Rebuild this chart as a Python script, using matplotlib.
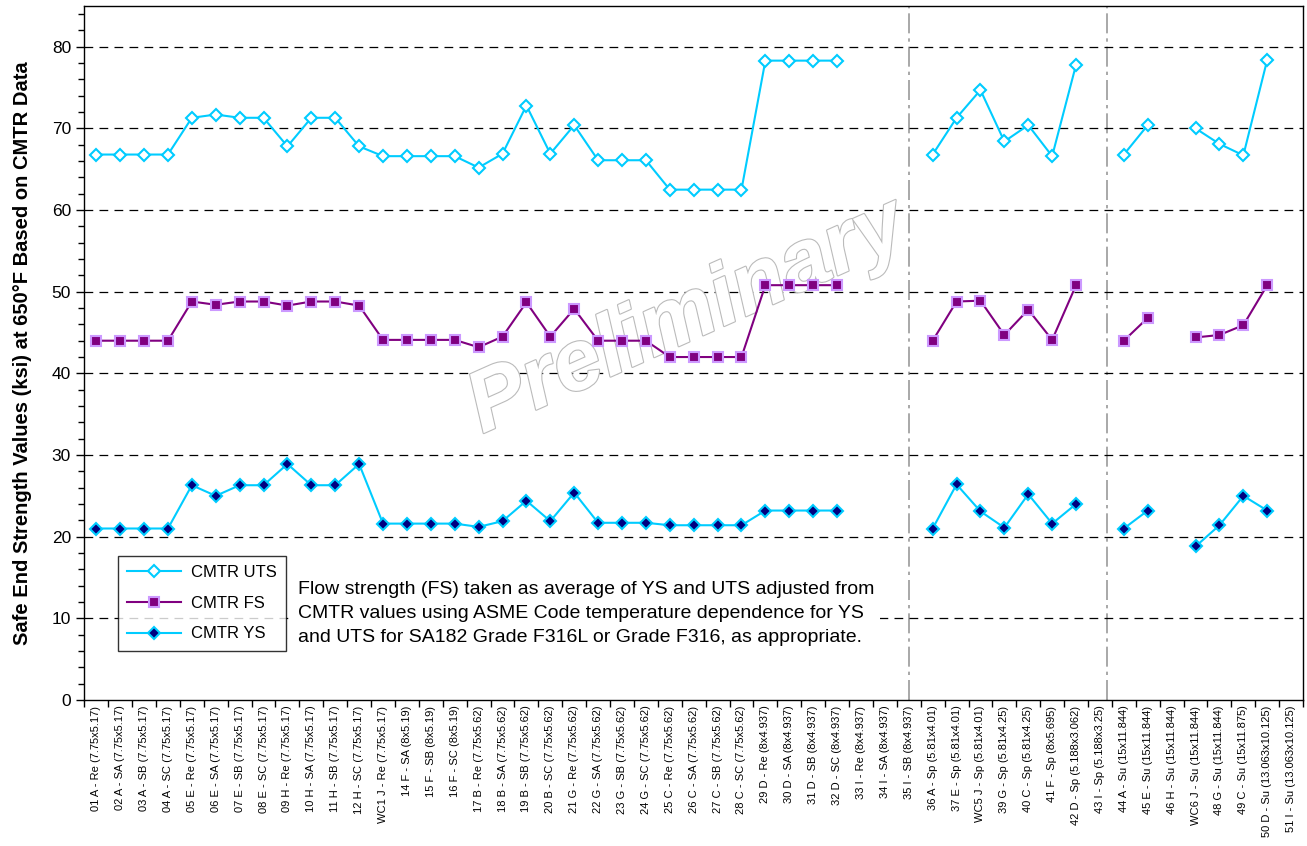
import numpy as np
import matplotlib.pyplot as plt
import matplotlib.patheffects as pe
from matplotlib.ticker import MultipleLocator

plt.rcParams['font.family'] = ['Liberation Sans', 'DejaVu Sans']

nan = np.nan

# Safe end identifiers (location - type (OD x ID))
labels = [
    '01 A - Re (7.75x5.17)', '02 A - SA (7.75x5.17)', '03 A - SB (7.75x5.17)', '04 A - SC (7.75x5.17)',
    '05 E - Re (7.75x5.17)', '06 E - SA (7.75x5.17)', '07 E - SB (7.75x5.17)', '08 E - SC (7.75x5.17)',
    '09 H - Re (7.75x5.17)', '10 H - SA (7.75x5.17)', '11 H - SB (7.75x5.17)', '12 H - SC (7.75x5.17)',
    'WC1 J - Re (7.75x5.17)', '14 F - SA (8x5.19)', '15 F - SB (8x5.19)', '16 F - SC (8x5.19)',
    '17 B - Re (7.75x5.62)', '18 B - SA (7.75x5.62)', '19 B - SB (7.75x5.62)', '20 B - SC (7.75x5.62)',
    '21 G - Re (7.75x5.62)', '22 G - SA (7.75x5.62)', '23 G - SB (7.75x5.62)', '24 G - SC (7.75x5.62)',
    '25 C - Re (7.75x5.62)', '26 C - SA (7.75x5.62)', '27 C - SB (7.75x5.62)', '28 C - SC (7.75x5.62)',
    '29 D - Re (8x4.937)', '30 D - SA (8x4.937)', '31 D - SB (8x4.937)', '32 D - SC (8x4.937)',
    '33 I - Re (8x4.937)', '34 I - SA (8x4.937)', '35 I - SB (8x4.937)',
    '36 A - Sp (5.81x4.01)', '37 E - Sp (5.81x4.01)', 'WC5 J - Sp (5.81x4.01)', '39 G - Sp (5.81x4.25)',
    '40 C - Sp (5.81x4.25)', '41 F - Sp (8x5.695)', '42 D - Sp (5.188x3.062)', '43 I - Sp (5.188x3.25)',
    '44 A - Su (15x11.844)', '45 E - Su (15x11.844)', '46 H - Su (15x11.844)', 'WC6 J - Su (15x11.844)',
    '48 G - Su (15x11.844)', '49 C - Su (15x11.875)', '50 D - Su (13.063x10.125)', '51 I - Su (13.063x10.125)',
]

uts = [66.8, 66.8, 66.8, 66.8, 71.3, 71.7, 71.3, 71.3, 67.8, 71.3, 71.3, 67.8,
       66.6, 66.6, 66.6, 66.6, 65.2, 66.9, 72.8, 66.9, 70.4, 66.1, 66.1, 66.1,
       62.5, 62.5, 62.5, 62.5, 78.3, 78.3, 78.3, 78.3, nan, nan, nan,
       66.8, 71.3, 74.7, 68.4, 70.4, 66.6, 77.8, nan,
       66.8, 70.4, nan, 70.0, 68.1, 66.7, 78.4, nan]

fs = [44.0, 44.0, 44.0, 44.0, 48.8, 48.4, 48.8, 48.8, 48.3, 48.8, 48.8, 48.3,
      44.1, 44.1, 44.1, 44.1, 43.2, 44.5, 48.7, 44.5, 47.9, 44.0, 44.0, 44.0,
      42.0, 42.0, 42.0, 42.0, 50.8, 50.8, 50.8, 50.8, nan, nan, nan,
      44.0, 48.8, 48.9, 44.7, 47.8, 44.1, 50.8, nan,
      44.0, 46.8, nan, 44.4, 44.7, 45.9, 50.8, nan]

ys = [21.0, 21.0, 21.0, 21.0, 26.3, 25.0, 26.3, 26.3, 28.9, 26.3, 26.3, 28.9,
      21.6, 21.6, 21.6, 21.6, 21.2, 21.9, 24.4, 21.9, 25.4, 21.7, 21.7, 21.7,
      21.4, 21.4, 21.4, 21.4, 23.2, 23.2, 23.2, 23.2, nan, nan, nan,
      21.0, 26.4, 23.1, 21.1, 25.2, 21.6, 24.0, nan,
      21.0, 23.2, nan, 18.8, 21.4, 25.0, 23.2, nan]

# group separators (between Re/SA/SB/SC, Sp and Su safe ends)
separators = [34.0, 42.3]

fig = plt.figure(figsize=(13.07, 8.46), dpi=100)
ax = fig.add_axes([0.0645, 0.1726, 0.9325, 0.8204])

x = np.arange(len(labels))
cyan = '#00CCFF'

ax.plot(x, uts, color=cyan, lw=1.5, marker='D', ms=6.5, mfc='white',
        mec=cyan, mew=1.5, label='CMTR UTS', zorder=4)
ax.plot(x, fs, color='#800080', lw=1.5, marker='s', ms=7.5, mfc='#800080',
        mec='#CC99FF', mew=1.5, label='CMTR FS', zorder=4)
ax.plot(x, ys, color=cyan, lw=1.5, marker='D', ms=6.5, mfc='#000080',
        mec=cyan, mew=1.5, label='CMTR YS', zorder=4)

for xs in separators:
    ax.axvline(xs, color='#999999', lw=1.2, ls=(0, (12, 3, 2, 3)), zorder=1)

ax.set_xlim(-0.5, len(labels) - 0.5)
ax.set_ylim(0, 85)
ax.yaxis.set_minor_locator(MultipleLocator(2))
ax.set_yticks(range(0, 81, 10))
for yv in range(10, 81, 10):
    ax.axhline(yv, color='black', lw=0.9, ls=(0, (7, 5)), zorder=1)

ax.set_xticks(x)
ax.set_xticklabels(labels, rotation=90, fontsize=8)
ax.set_xticks(np.arange(-0.5, len(labels), 1), minor=True)
ax.tick_params(axis='x', which='major', length=0, pad=4)
ax.tick_params(axis='x', which='minor', length=5, width=1, direction='out')
ax.tick_params(axis='y', which='major', length=6, width=1, labelsize=12.5, direction='out')
ax.tick_params(axis='y', which='minor', length=4, width=1, direction='out')
for sp in ax.spines.values():
    sp.set_linewidth(1.0)

ax.set_ylabel('Safe End Strength Values (ksi) at 650°F Based on CMTR Data',
              fontsize=14.5, fontweight='bold', labelpad=14)

leg = ax.legend(loc='upper left', bbox_to_anchor=(0.0279, 0.208), fontsize=12,
                frameon=True, fancybox=False, edgecolor='black', handlelength=3.2,
                handletextpad=0.6, borderpad=0.55, labelspacing=0.95,
                borderaxespad=0)
leg.get_frame().set_linewidth(1.0)
leg.set_zorder(6)

ax.text(0.175, 0.172,
        'Flow strength (FS) taken as average of YS and UTS adjusted from\n'
        'CMTR values using ASME Code temperature dependence for YS\n'
        'and UTS for SA182 Grade F316L or Grade F316, as appropriate.',
        transform=ax.transAxes, fontsize=14, va='top', ha='left', linespacing=1.55,
        zorder=6, bbox=dict(facecolor='white', edgecolor='none', pad=4))

# watermark
ax.text(0.495, 0.55, 'Preliminary', transform=ax.transAxes, fontsize=62,
        fontstyle='italic', fontweight='bold', color='white', rotation=24,
        ha='center', va='center', zorder=3,
        path_effects=[pe.Stroke(linewidth=1.6, foreground='#BBBBBB'), pe.Normal()])

fig.savefig('out.png', dpi=100)
